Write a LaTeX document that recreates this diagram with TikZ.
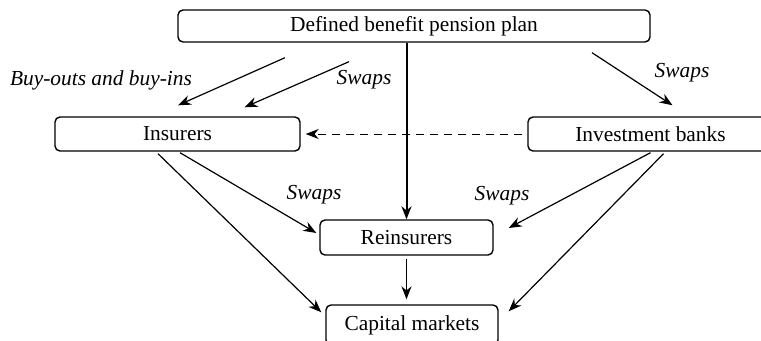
\documentclass[tikz,border=0pt]{standalone}
\usepackage{fontspec}
\setmainfont{Liberation Serif}
\usetikzlibrary{calc,arrows.meta}

\tikzset{
  box/.style={draw,line width=0.7pt,rounded corners=2.5pt,inner sep=0pt,
    font=\fontsize{10.7}{13}\selectfont},
  lbl/.style={inner sep=0pt,font=\fontsize{10.7}{13}\selectfont\itshape},
  arr/.style={line width=0.6pt,-{Stealth[length=6.5pt,width=5pt]}},
}

\begin{document}
\begin{tikzpicture}[x=0.5pt,y=-0.5pt]
\useasboundingbox (0,0) rectangle (761,341);
% boxes
\node[box,minimum width=236pt,minimum height=16pt] (plan) at (414,26) {Defined benefit pension plan};
\node[box,minimum width=122.5pt,minimum height=17pt] (ins) at (177.5,134) {Insurers};
\node[box,minimum width=122.5pt,minimum height=17pt] (inv) at (650.5,134) {Investment banks};
\node[box,minimum width=86.5pt,minimum height=17.5pt] (rein) at (406.5,237.5) {Reinsurers};
\node[box,minimum width=86pt,minimum height=20pt] (cap) at (412,325) {Capital markets};
% labels
\node[lbl] (buy) at (101,80) {Buy-outs and buy-ins};
\node[lbl] (sw1) at (364,80) {Swaps};
\node[lbl] (sw2) at (682,73) {Swaps};
\node[lbl] (sw3) at (314,195) {Swaps};
\node[lbl] (sw4) at (502,196) {Swaps};
% arrows
\draw[arr] ($(plan.south)+(-129,15)$) -- ($(ins.north)+(0.5,-11)$);
\draw[arr] ($(plan.south)+(-65,19)$) -- ($(ins.north)+(67,-9)$);
\draw[arr] ($(plan.south)+(178,10)$) -- ($(inv.north)+(22,-11)$);
\draw[arr,line width=0.45pt,dash pattern=on 4pt off 3pt,shorten <=2.5pt,shorten >=2.5pt] (inv.west) -- (ins.east);
\draw[arr,line width=1pt] (rein.north |- plan.south) -- (rein.north);
\draw[arr] ($(ins.south)+(2.5,1)$) -- ($(rein.west)+(-3,-4.5)$);
\draw[arr] ($(ins.south)+(-19.5,2)$) -- ($(cap.north west)+(-4,8)$);
\draw[arr] ($(inv.south)+(0,1)$) -- ($(rein.east)+(15,-9.5)$);
\draw[arr] ($(inv.south)+(13,2)$) -- ($(cap.north east)+(10,7)$);
\draw[arr] ($(rein.south)+(0,3)$) -- ($(rein.south |- cap.north)+(0,-5)$);
\end{tikzpicture}
\end{document}
